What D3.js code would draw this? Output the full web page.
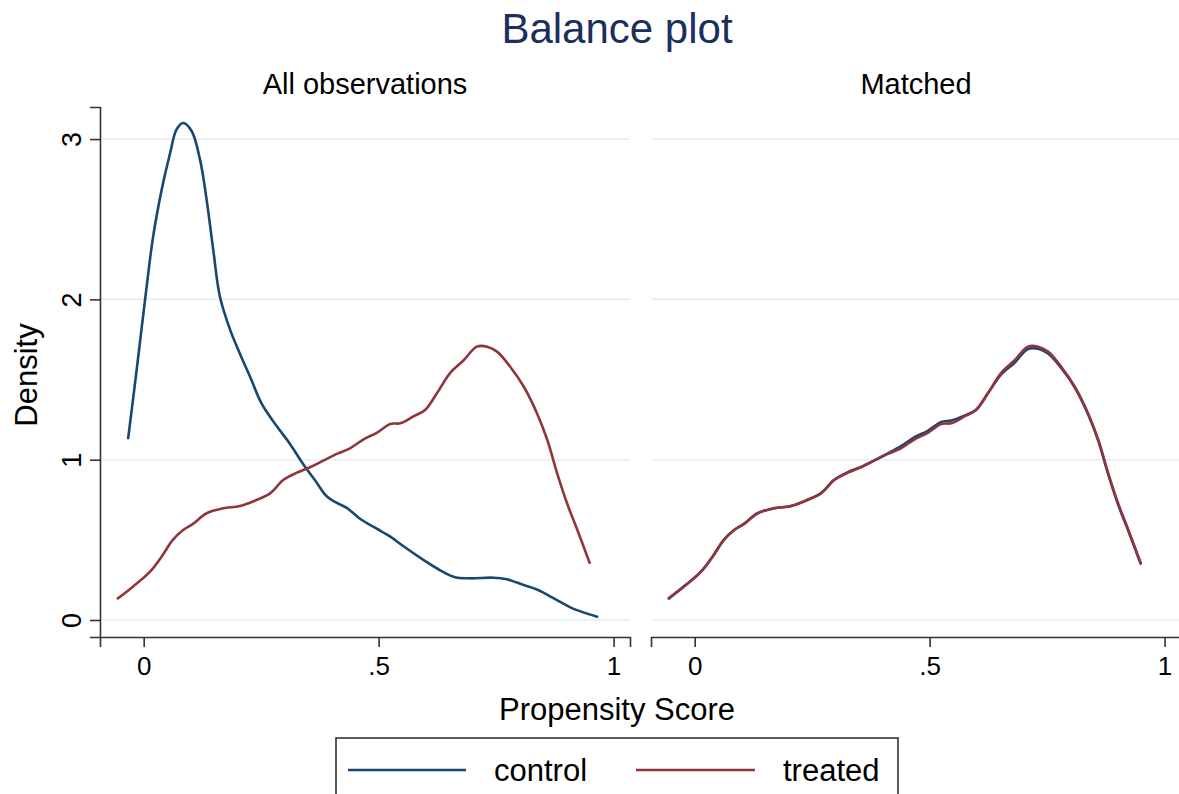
<!DOCTYPE html>
<html>
<head>
<meta charset="utf-8">
<script src="https://cdn.jsdelivr.net/npm/d3@7"></script>
<style>
  html, body { margin: 0; padding: 0; background: #ffffff; }
  svg { display: block; }
  text { font-family: "Liberation Sans", Arial, Helvetica, sans-serif; fill: #000; }
</style>
</head>
<body>
<svg id="chart" width="1179" height="794"></svg>
<script>
// ---------------- data ----------------
const panels = ["All observations", "Matched"];
const seriesNames = ["control", "treated"];
const xTicks = [0, 0.5, 1];
const xTickLabels = ["0", ".5", "1"];
const yTicks = [0, 1, 2, 3];
const yTickLabels = ["0", "1", "2", "3"];

// All observations - control
const allControlX = [-0.033, -0.015, 0.003, 0.020, 0.038, 0.056, 0.070, 0.084, 0.102, 0.120, 0.134, 0.148, 0.162, 0.184, 0.205, 0.226, 0.251, 0.283, 0.311, 0.340, 0.365, 0.390, 0.411, 0.432, 0.461, 0.496, 0.525, 0.553, 0.596, 0.631, 0.663, 0.695, 0.745, 0.773, 0.809, 0.837, 0.873, 0.908, 0.937, 0.965];
const allControlY = [1.134, 1.56, 2.00, 2.39, 2.68, 2.91, 3.06, 3.10, 3.05, 2.87, 2.62, 2.31, 2.02, 1.81, 1.66, 1.52, 1.35, 1.21, 1.10, 0.97, 0.87, 0.77, 0.73, 0.70, 0.63, 0.57, 0.52, 0.46, 0.374, 0.31, 0.266, 0.26, 0.264, 0.254, 0.218, 0.19, 0.135, 0.079, 0.046, 0.021];

// All observations - treated
const allTreatedX = [-0.055, -0.023, 0.013, 0.038, 0.062, 0.084, 0.105, 0.134, 0.169, 0.205, 0.240, 0.269, 0.297, 0.326, 0.354, 0.382, 0.411, 0.439, 0.468, 0.496, 0.525, 0.546, 0.574, 0.599, 0.624, 0.652, 0.681, 0.709, 0.731, 0.752, 0.780, 0.809, 0.837, 0.859, 0.880, 0.901, 0.923, 0.949];
const allTreatedY = [0.135, 0.208, 0.300, 0.395, 0.500, 0.561, 0.600, 0.666, 0.697, 0.711, 0.749, 0.790, 0.873, 0.919, 0.953, 0.994, 1.036, 1.071, 1.127, 1.168, 1.223, 1.227, 1.270, 1.310, 1.414, 1.540, 1.620, 1.705, 1.705, 1.674, 1.580, 1.455, 1.290, 1.123, 0.915, 0.728, 0.561, 0.357];

// Matched - control
const matControlX = [-0.055, -0.023, 0.013, 0.038, 0.062, 0.084, 0.105, 0.134, 0.169, 0.205, 0.240, 0.269, 0.297, 0.326, 0.354, 0.382, 0.411, 0.439, 0.468, 0.496, 0.525, 0.546, 0.574, 0.599, 0.624, 0.652, 0.681, 0.709, 0.731, 0.752, 0.780, 0.809, 0.837, 0.859, 0.880, 0.901, 0.923, 0.949];
const matControlY = [0.135, 0.210, 0.300, 0.395, 0.500, 0.561, 0.600, 0.666, 0.697, 0.711, 0.750, 0.792, 0.875, 0.922, 0.955, 0.996, 1.040, 1.085, 1.140, 1.180, 1.235, 1.245, 1.275, 1.312, 1.414, 1.530, 1.605, 1.690, 1.692, 1.662, 1.572, 1.450, 1.285, 1.118, 0.910, 0.722, 0.555, 0.352];

// Matched - treated
const matTreatedX = allTreatedX.slice();
const matTreatedY = allTreatedY.slice();

// ---------------- layout ----------------
const svg = d3.select("#chart");
const colors = { control: "#1a476f", treated: "#90353b" };
const yTop = 107, yBot = 637;
const panelRanges = [[100, 630], [651, 1181]];
const xDomain = [-0.093, 1.035];
const y = d3.scaleLinear().domain([-0.106, 3.2]).range([yBot, yTop]);

svg.append("rect").attr("width", 1179).attr("height", 794).attr("fill", "#fff");

// title
svg.append("text").attr("x", 617).attr("y", 43).attr("text-anchor", "middle")
  .style("font-size", "42px").style("fill", "#1c2f5c").text("Balance plot");

const dataSets = [
  [{name: "control", xs: allControlX, ys: allControlY}, {name: "treated", xs: allTreatedX, ys: allTreatedY}],
  [{name: "control", xs: matControlX, ys: matControlY}, {name: "treated", xs: matTreatedX, ys: matTreatedY}]
];

panels.forEach((p, i) => {
  const x = d3.scaleLinear().domain(xDomain).range(panelRanges[i]);
  const g = svg.append("g");

  // subtitle
  g.append("text").attr("x", (panelRanges[i][0] + panelRanges[i][1]) / 2).attr("y", 94)
    .attr("text-anchor", "middle").style("font-size", "29px").text(p);

  // gridlines
  g.selectAll(".grid").data(yTicks).enter().append("line")
    .attr("x1", panelRanges[i][0]).attr("x2", panelRanges[i][1])
    .attr("y1", d => y(d)).attr("y2", d => y(d))
    .attr("stroke", "#e6eef1").attr("stroke-width", 1.6);

  // x axis
  const xAxis = d3.axisBottom(x).tickValues(xTicks).tickSize(10).tickPadding(10)
    .tickFormat((d, k) => xTickLabels[k]);
  const ax = g.append("g").attr("transform", `translate(0,${yBot})`).call(xAxis);
  ax.select(".domain").attr("stroke", "#333").attr("stroke-width", 1.6);
  ax.selectAll(".tick line").attr("stroke", "#333").attr("stroke-width", 1.6);
  ax.selectAll(".tick text").style("font-size", "26px").style("font-family", "Liberation Sans, Arial, sans-serif").attr("fill", "#000");

  // y axis only on first panel
  if (i === 0) {
    const yAxis = d3.axisLeft(y).tickValues(yTicks).tickSize(10).tickFormat((d, k) => yTickLabels[k]);
    const ay = g.append("g").attr("transform", `translate(${panelRanges[0][0]},0)`).call(yAxis);
    ay.select(".domain").attr("stroke", "#333").attr("stroke-width", 1.6);
    ay.selectAll(".tick line").attr("stroke", "#333").attr("stroke-width", 1.6);
    ay.selectAll(".tick text")
      .attr("x", 0).attr("dy", 0)
      .attr("transform", "translate(-19,0) rotate(-90)")
      .attr("text-anchor", "middle")
      .style("font-size", "27px").style("font-family", "Liberation Sans, Arial, sans-serif").attr("fill", "#000");
  }

  // lines
  const line = d3.line().x(d => x(d[0])).y(d => y(d[1])).curve(d3.curveCatmullRom.alpha(0.5));
  dataSets[i].forEach(s => {
    const pts = s.xs.map((v, k) => [v, s.ys[k]]);
    g.append("path").datum(pts).attr("d", line)
      .attr("fill", "none").attr("stroke", colors[s.name]).attr("stroke-width", 2.6)
      .attr("stroke-linejoin", "round").attr("stroke-linecap", "round");
  });
});

// y-axis title
svg.append("text").attr("transform", "translate(37,375) rotate(-90)")
  .attr("text-anchor", "middle").style("font-size", "31px").text("Density");

// x-axis title
svg.append("text").attr("x", 617).attr("y", 720).attr("text-anchor", "middle")
  .style("font-size", "31px").text("Propensity Score");

// legend
const leg = svg.append("g");
leg.append("rect").attr("x", 336).attr("y", 738).attr("width", 562).attr("height", 80)
  .attr("fill", "#fff").attr("stroke", "#333").attr("stroke-width", 1.6);
const legItems = [
  {name: seriesNames[0], x1: 348, x2: 466, tx: 494},
  {name: seriesNames[1], x1: 636, x2: 755, tx: 783}
];
legItems.forEach(it => {
  leg.append("line").attr("x1", it.x1).attr("x2", it.x2).attr("y1", 770).attr("y2", 770)
    .attr("stroke", colors[it.name]).attr("stroke-width", 2.6);
  leg.append("text").attr("x", it.tx).attr("y", 781).style("font-size", "31px").text(it.name);
});
</script>
</body>
</html>
